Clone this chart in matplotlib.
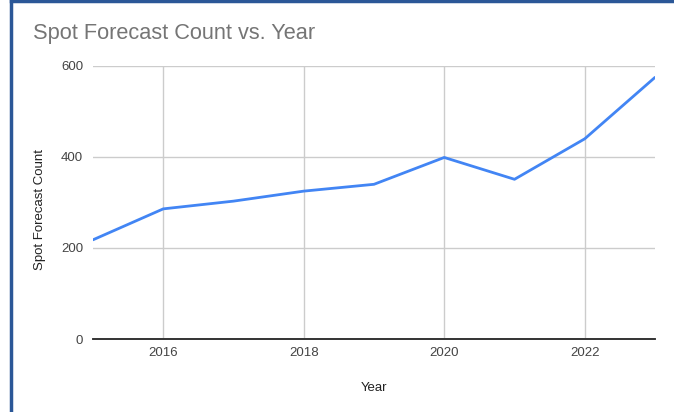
import matplotlib
matplotlib.use("Agg")
import matplotlib.pyplot as plt
from matplotlib.lines import Line2D

years = [2015, 2016, 2017, 2018, 2019, 2020, 2021, 2022, 2023]
counts = [218, 286, 303, 325, 340, 399, 351, 440, 575]
x_ticks = [2016, 2018, 2020, 2022]
y_ticks = [0, 200, 400, 600]

plt.rcParams["font.family"] = ["Liberation Sans", "DejaVu Sans"]

W, H = 674, 412
fig = plt.figure(figsize=(W / 100, H / 100), dpi=100)
ax = fig.add_axes([93 / W, 1 - 339 / H, (655 - 93) / W, (339 - 66) / H])

ax.plot(years, counts, color="#4285f4", linewidth=2, solid_capstyle="round", zorder=3)

ax.set_xlim(2015, 2023)
ax.set_ylim(0, 600)
ax.set_xticks(x_ticks)
ax.set_yticks(y_ticks)
ax.grid(True, color="#cccccc", linewidth=1)
ax.set_axisbelow(True)
for s in ["top", "right", "left"]:
    ax.spines[s].set_visible(False)
ax.spines["bottom"].set_color("#333333")
ax.spines["bottom"].set_linewidth(1.2)
ax.tick_params(axis="both", length=0, labelsize=9.5, colors="#444444")
ax.tick_params(axis="y", pad=7)
ax.tick_params(axis="x", pad=6)
ax.axhline(0, color="#333333", linewidth=1.2, clip_on=False, zorder=4)

ax.set_xlabel("Year", fontsize=9.5, color="#222222", labelpad=16)
ax.set_ylabel("Spot Forecast Count", fontsize=9.5, color="#222222")
ax.yaxis.set_label_coords(-0.084, 0.475)

fig.text(33 / W, 1 - 34 / H, "Spot Forecast Count vs. Year", fontsize=15.7,
         color="#757575", va="center", ha="left")

# blue frame on left and top edges
fig.add_artist(Line2D([11 / W, 11 / W], [0, 1], transform=fig.transFigure,
                      color="#2b5797", linewidth=2.5))
fig.add_artist(Line2D([11 / W, 1], [1 - 1 / H, 1 - 1 / H], transform=fig.transFigure,
                      color="#2b5797", linewidth=2.5))

fig.savefig("out.png", dpi=100)
